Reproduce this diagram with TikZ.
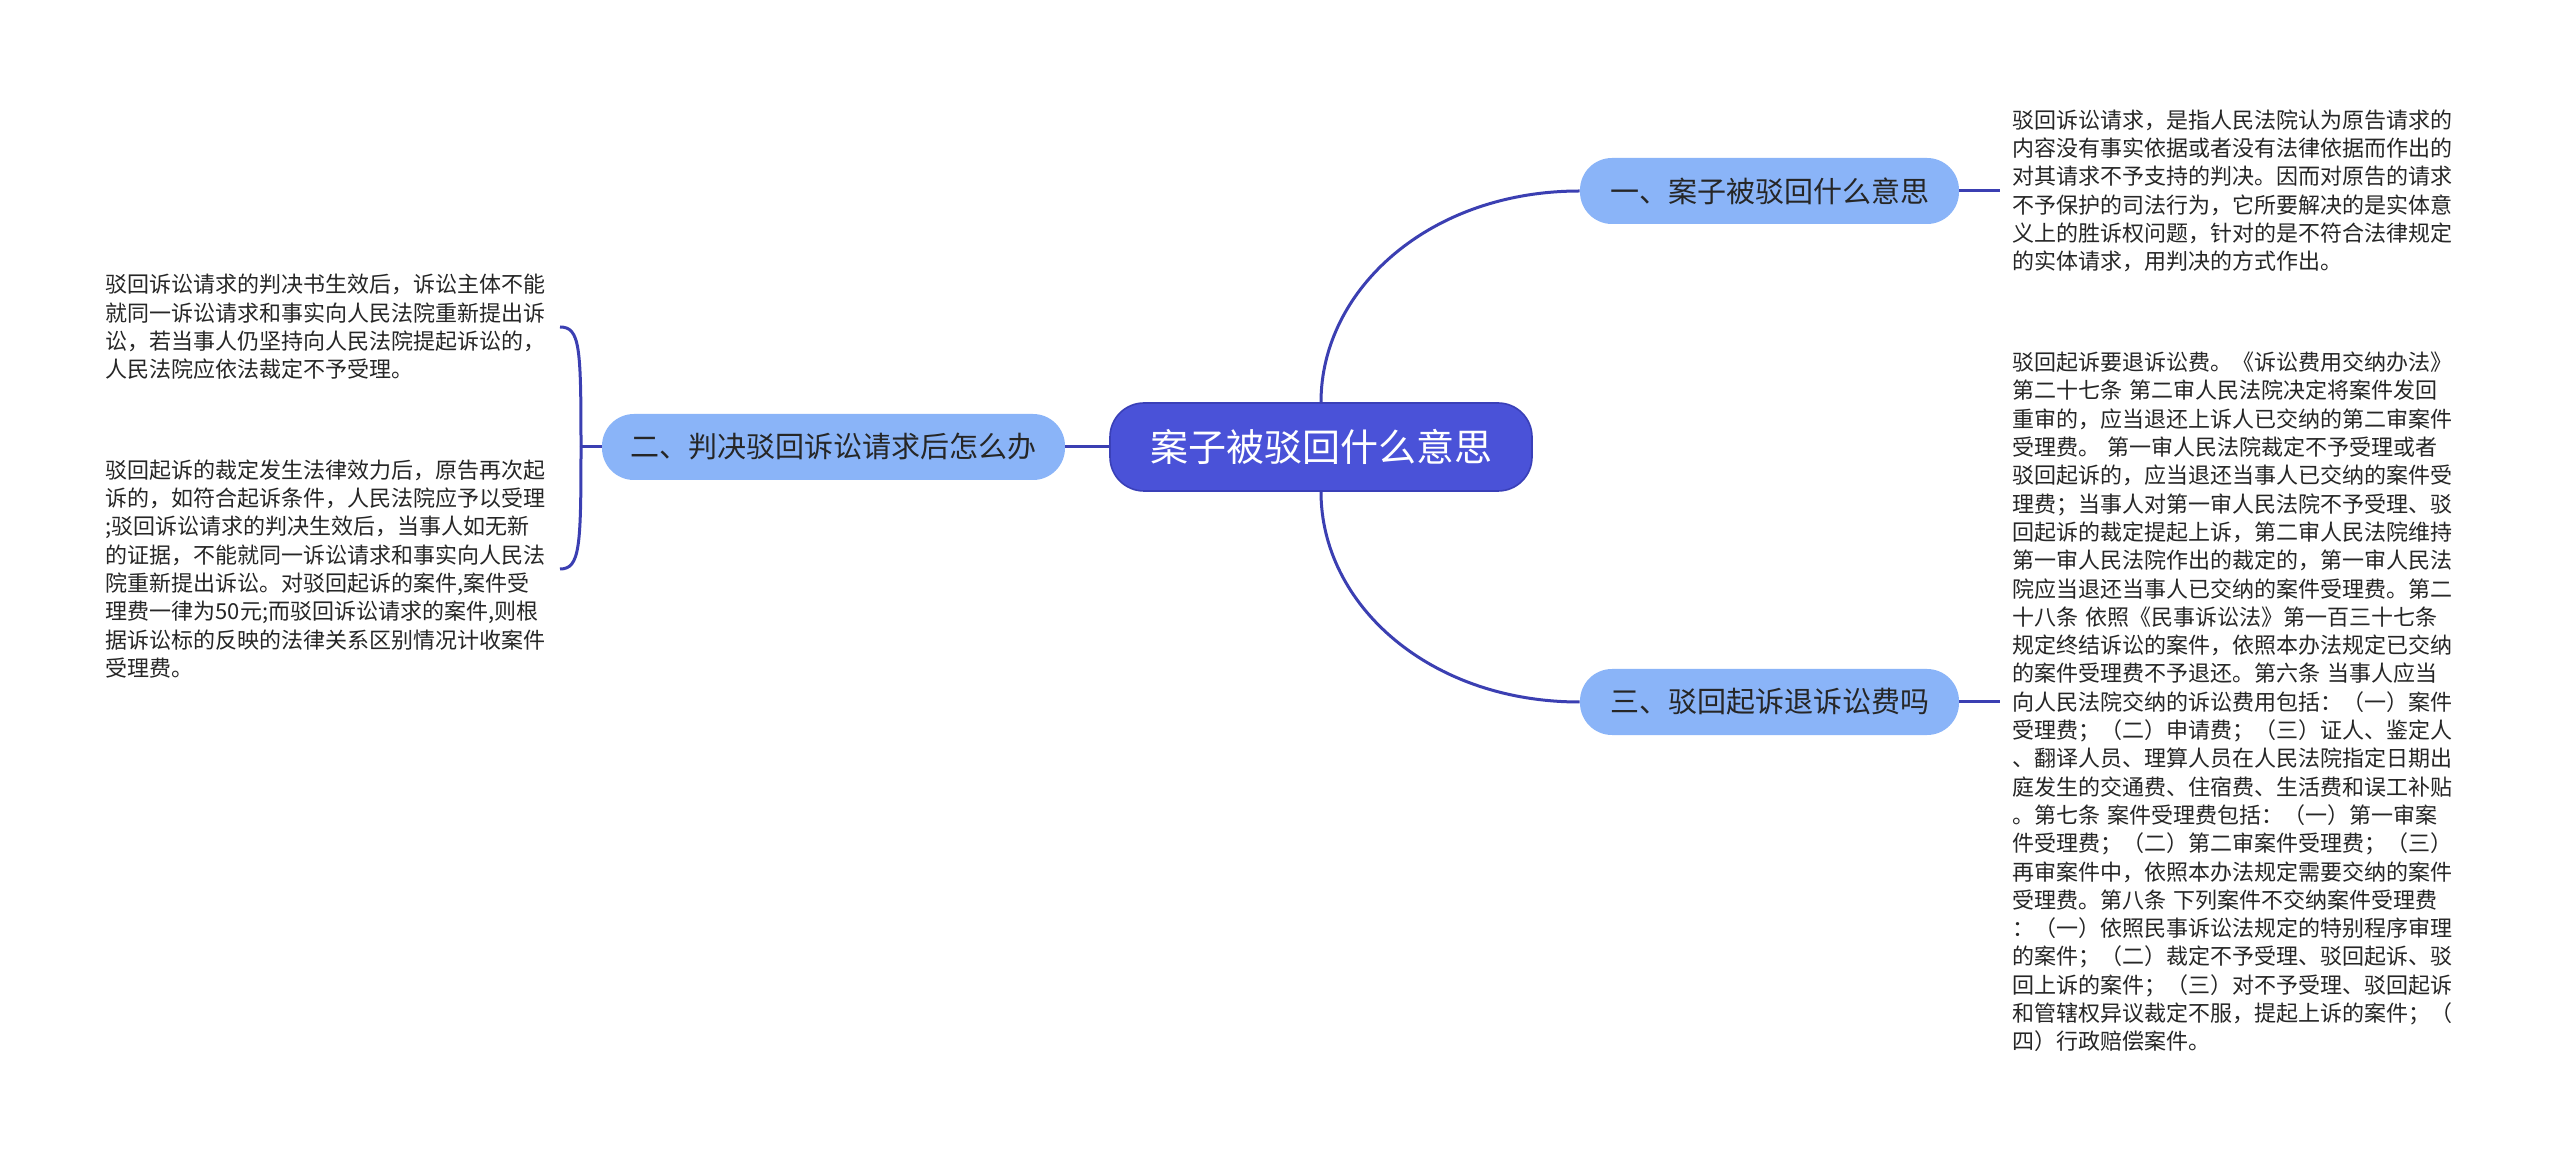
\documentclass[tikz,border=0pt]{standalone}
\usepackage{fontspec}
\newfontfamily\cjk{Noto Sans CJK SC}
\definecolor{rootblue}{HTML}{4A52D8}
\definecolor{rootedge}{HTML}{3A40B8}
\definecolor{branchblue}{HTML}{8AB4F8}
\definecolor{linkblue}{HTML}{3B3FB2}
\tikzset{
  root/.style={fill=rootblue, draw=rootedge, line width=0.8pt, rounded corners=17pt,
    minimum width=211pt, minimum height=44pt, text=white,
    font=\cjk\fontsize{19}{23}\selectfont},
  branch/.style={fill=branchblue, rounded corners=16pt, minimum height=33pt,
    text=black!85, font=\cjk\fontsize{14.5}{17}\selectfont},
  note/.style={text width=223pt, align=left, inner ysep=0pt, text=black!85,
    font=\cjk\fontsize{11}{14.15}\selectfont},
  link/.style={draw=linkblue, line width=1.5pt},
}
\begin{document}
\begin{tikzpicture}[x=0.5pt,y=-0.5pt]
  \useasboundingbox[fill=white] (0,0) rectangle (2560,1165);
  \node[root] (root) at (1321,447) {案子被驳回什么意思};
  \node[branch, minimum width=189.5pt] (b1) at (1769.5,191) {一、案子被驳回什么意思};
  \node[branch, minimum width=231.5pt] (b2) at (833.5,447) {二、判决驳回诉讼请求后怎么办};
  \node[branch, minimum width=189.5pt] (b3) at (1769.5,702) {三、驳回起诉退诉讼费吗};
  \node[note, inner xsep=6pt, anchor=west] (t1) at (2000,191) {驳回诉讼请求，是指人民法院认为原告请求的\\
    内容没有事实依据或者没有法律依据而作出的\\
    对其请求不予支持的判决。因而对原告的请求\\
    不予保护的司法行为，它所要解决的是实体意\\
    义上的胜诉权问题，针对的是不符合法律规定\\
    的实体请求，用判决的方式作出。};
  \node[note, inner xsep=6pt, anchor=west] (t3) at (2000,702) {驳回起诉要退诉讼费。《诉讼费用交纳办法》\\
    第二十七条 第二审人民法院决定将案件发回\\
    重审的，应当退还上诉人已交纳的第二审案件\\
    受理费。 第一审人民法院裁定不予受理或者\\
    驳回起诉的，应当退还当事人已交纳的案件受\\
    理费；当事人对第一审人民法院不予受理、驳\\
    回起诉的裁定提起上诉，第二审人民法院维持\\
    第一审人民法院作出的裁定的，第一审人民法\\
    院应当退还当事人已交纳的案件受理费。第二\\
    十八条 依照《民事诉讼法》第一百三十七条\\
    规定终结诉讼的案件，依照本办法规定已交纳\\
    的案件受理费不予退还。第六条 当事人应当\\
    向人民法院交纳的诉讼费用包括：（一）案件\\
    受理费；（二）申请费；（三）证人、鉴定人\\
    、翻译人员、理算人员在人民法院指定日期出\\
    庭发生的交通费、住宿费、生活费和误工补贴\\
    。第七条 案件受理费包括：（一）第一审案\\
    件受理费；（二）第二审案件受理费；（三）\\
    再审案件中，依照本办法规定需要交纳的案件\\
    受理费。第八条 下列案件不交纳案件受理费\\
    ：（一）依照民事诉讼法规定的特别程序审理\\
    的案件；（二）裁定不予受理、驳回起诉、驳\\
    回上诉的案件；（三）对不予受理、驳回起诉\\
    和管辖权异议裁定不服，提起上诉的案件；（\\
    四）行政赔偿案件。};
  \node[note, inner xsep=4pt, anchor=east] (l1) at (560,327) {驳回诉讼请求的判决书生效后，诉讼主体不能\\
    就同一诉讼请求和事实向人民法院重新提出诉\\
    讼，若当事人仍坚持向人民法院提起诉讼的，\\
    人民法院应依法裁定不予受理。};
  \node[note, inner xsep=4pt, anchor=east] (l2) at (560,569) {驳回起诉的裁定发生法律效力后，原告再次起\\
    诉的，如符合起诉条件，人民法院应予以受理\\
    ;驳回诉讼请求的判决生效后，当事人如无新\\
    的证据，不能就同一诉讼请求和事实向人民法\\
    院重新提出诉讼。对驳回起诉的案件,案件受\\
    理费一律为50元;而驳回诉讼请求的案件,则根\\
    据诉讼标的反映的法律关系区别情况计收案件\\
    受理费。};
  \coordinate (fork) at (581,447);
  \draw[link] (root.north) .. controls +(0,-113) and +(-150,0) .. (b1.west);
  \draw[link] (root.south) .. controls +(0,113) and +(-150,0) .. (b3.west);
  \draw[link] (root.west) -- (b2.east);
  \draw[link] (b1.east) -- (t1.west);
  \draw[link] (b3.east) -- (t3.west);
  \draw[link] (b2.west) -- (fork);
  \draw[link] (fork) .. controls +(0,-100) and +(20,0) .. (l1.east);
  \draw[link] (fork) .. controls +(0,100) and +(20,0) .. (l2.east);
\end{tikzpicture}
\end{document}
